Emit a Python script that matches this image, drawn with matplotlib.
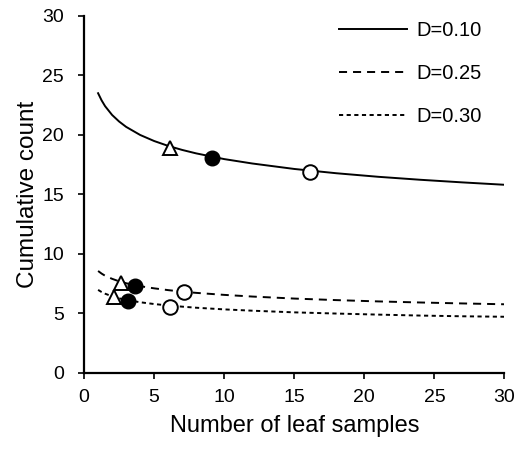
import matplotlib
matplotlib.use("Agg")
import matplotlib.pyplot as plt

plt.rcParams['font.family'] = ['Liberation Sans', 'DejaVu Sans']
plt.rcParams['lines.scale_dashes'] = False

# curve points
x_curve = [1, 1.25, 1.5, 2, 2.5, 3, 4, 5, 6, 7, 8, 10, 12, 15, 18, 21, 24, 27, 30]
y_d010 = [23.5, 22.9, 22.41, 21.67, 21.12, 20.67, 19.99, 19.48, 19.07, 18.73,
          18.44, 17.96, 17.59, 17.13, 16.77, 16.47, 16.22, 16.00, 15.80]
y_d025 = [8.55, 8.33, 8.15, 7.89, 7.68, 7.52, 7.27, 7.09, 6.94, 6.81,
          6.71, 6.54, 6.40, 6.23, 6.10, 5.99, 5.90, 5.82, 5.75]
y_d030 = [6.96, 6.78, 6.64, 6.42, 6.25, 6.12, 5.92, 5.77, 5.65, 5.55,
          5.46, 5.32, 5.21, 5.07, 4.97, 4.88, 4.80, 4.74, 4.70]

# marker points (triangle, filled circle, open circle) per curve
tri_x = [6.1, 2.6, 2.1]
tri_y = [18.9, 7.5, 6.4]
fill_x = [9.1, 3.6, 3.1]
fill_y = [18.06, 7.27, 6.06]
open_x = [16.1, 7.1, 6.1]
open_y = [16.85, 6.76, 5.55]

labels = ['D=0.10', 'D=0.25', 'D=0.30']

fig = plt.figure(figsize=(5.19, 4.55), dpi=100)
ax = fig.add_axes([0.162, 0.181, 0.810, 0.784])

l1, = ax.plot(x_curve, y_d010, color='black', lw=1.4, label=labels[0])
l2, = ax.plot(x_curve, y_d025, color='black', lw=1.4, label=labels[1])
l2.set_dashes((5.8, 4.3))
l3, = ax.plot(x_curve, y_d030, color='black', lw=1.4, label=labels[2])
l3.set_dashes((3, 2.5))

ax.plot(tri_x, tri_y, linestyle='none', marker='^', markersize=10.5,
        markerfacecolor='white', markeredgecolor='black', markeredgewidth=1.4)
ax.plot(fill_x, fill_y, linestyle='none', marker='o', markersize=10.5,
        markerfacecolor='black', markeredgecolor='black')
ax.plot(open_x, open_y, linestyle='none', marker='o', markersize=10.5,
        markerfacecolor='white', markeredgecolor='black', markeredgewidth=1.4)

ax.set_xlim(0, 30)
ax.set_ylim(0, 30)
ax.set_xticks(range(0, 31, 5))
ax.set_yticks(range(0, 31, 5))
ax.spines['top'].set_visible(False)
ax.spines['right'].set_visible(False)
ax.spines['left'].set_linewidth(1.6)
ax.spines['bottom'].set_linewidth(1.6)
ax.tick_params(axis='both', direction='out', length=4, width=1.2, labelsize=14)
ax.tick_params(axis='y', pad=10.5)
ax.tick_params(axis='x', pad=7.5)

ax.set_xlabel('Number of leaf samples', fontsize=17, labelpad=7)
ax.set_ylabel('Cumulative count', fontsize=17.5, labelpad=2)

ax.legend(handles=[l1, l2, l3], loc='upper left', frameon=False, fontsize=14.5,
          handlelength=3.4, handletextpad=0.45, labelspacing=1.2,
          borderpad=0, borderaxespad=0,
          bbox_to_anchor=(339 / 519, 1 - 21 / 455), bbox_transform=fig.transFigure)

fig.savefig('out.png', dpi=100)
